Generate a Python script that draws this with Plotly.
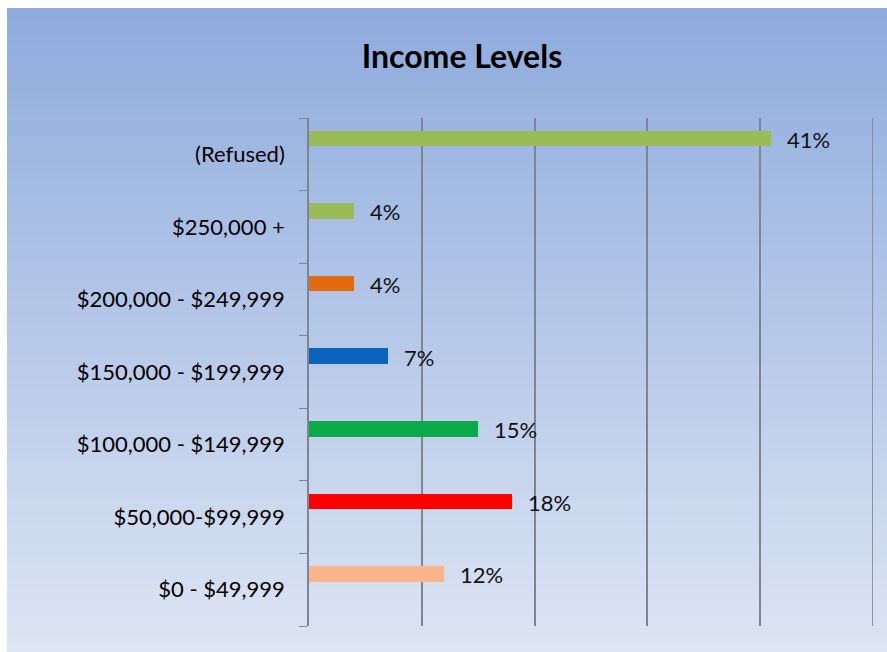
import plotly.graph_objects as go

# ---- data (bottom to top) ----
categories = ["$0 - $49,999", "$50,000-$99,999", "$100,000 - $149,999",
              "$150,000 - $199,999", "$200,000 - $249,999", "$250,000 +", "(Refused)"]
shares = [0.12, 0.18, 0.15, 0.07, 0.04, 0.04, 0.41]
labels = ["12%", "18%", "15%", "7%", "4%", "4%", "41%"]
bar_colors = ["#FAB68A", "#FF0000", "#0AAA48", "#0A64BE", "#E46A10", "#9BBB59", "#9BBB59"]
x_ticks = [0, 0.1, 0.2, 0.3, 0.4, 0.5]

W, H = 887, 652
L, R, T, B = 309, 14, 118, 26
pw, ph = W - L - R, H - T - B

fig = go.Figure()
fig.add_trace(go.Bar(
    x=shares, y=categories, orientation="h",
    marker=dict(color=bar_colors, line=dict(width=0)),
    width=0.215, offset=0.11, hoverinfo="skip", showlegend=False,
))

# data labels
for v, c, t in zip(shares, categories, labels):
    fig.add_annotation(x=v, y=c, text=t, showarrow=False, xanchor="left",
                       yanchor="middle", xshift=14, yshift=15,
                       font=dict(family="Lato", size=22, color="#111111"))

# gradient background panel (style only), from (7, 8) to the page edges
top = (142, 171, 221)
bot = (221, 229, 243)
n = 90
gx0, gy0 = 7, 8


def px_x(p):
    return (p - L) / pw


def px_y(p):
    return (H - B - p) / ph


shapes = []
for i in range(n):
    a = gy0 + (H - gy0) * i / n
    b = gy0 + (H - gy0) * (i + 1) / n
    f = (i + 0.5) / n
    col = tuple(round(top[k] + (bot[k] - top[k]) * f) for k in range(3))
    shapes.append(dict(type="rect", xref="paper", yref="paper", layer="below",
                       x0=px_x(gx0), x1=px_x(W + 20), y0=px_y(b + (20 if i == n - 1 else 0.5)),
                       y1=px_y(a - (0 if i == 0 else 0.5)),
                       line=dict(width=0), fillcolor="rgb(%d,%d,%d)" % col))
# white page border on the left and top
shapes.append(dict(type="rect", xref="paper", yref="paper", layer="below",
                   x0=px_x(-5), x1=px_x(gx0), y0=px_y(H + 20), y1=px_y(-5),
                   line=dict(width=0), fillcolor="white"))
shapes.append(dict(type="rect", xref="paper", yref="paper", layer="below",
                   x0=px_x(-5), x1=px_x(W + 20), y0=px_y(gy0), y1=px_y(-5),
                   line=dict(width=0), fillcolor="white"))
# gridline at the far end of the value axis (plotly skips grid at range ends)
shapes.append(dict(type="line", xref="x", yref="paper", x0=x_ticks[-1], x1=x_ticks[-1],
                   y0=0, y1=1, line=dict(color="#7E8590", width=1.6), layer="below"))

fig.update_layout(
    width=W, height=H,
    margin=dict(l=L, r=R, t=T, b=B, pad=0),
    paper_bgcolor="rgb(214,223,241)", plot_bgcolor="rgba(0,0,0,0)",
    shapes=shapes,
    title=dict(text="<b>Income Levels</b>", x=462 / W, xref="container", xanchor="center",
               y=1 - 57 / H, yref="container", yanchor="middle",
               font=dict(family="Lato", size=32, color="#000000")),
    xaxis=dict(range=[0, 0.5], tickvals=x_ticks, showticklabels=False, showgrid=True,
               gridcolor="#7E8590", gridwidth=1.6, zeroline=False, showline=False, ticks=""),
    yaxis=dict(type="category", categoryorder="array", categoryarray=categories,
               range=[-0.5, 6.5], showgrid=False, zeroline=False,
               showline=True, linecolor="#7E8590", linewidth=1.6,
               ticks="outside", tickson="boundaries", ticklen=8, tickcolor="#7E8590",
               tickwidth=1.4, ticklabelstandoff=18,
               tickfont=dict(family="Lato", size=22, color="#000000")),
    bargap=0,
)

fig.write_html("out.html", config={"displayModeBar": False},
               post_script="document.body.style.margin='0';document.body.style.overflow='hidden';")
